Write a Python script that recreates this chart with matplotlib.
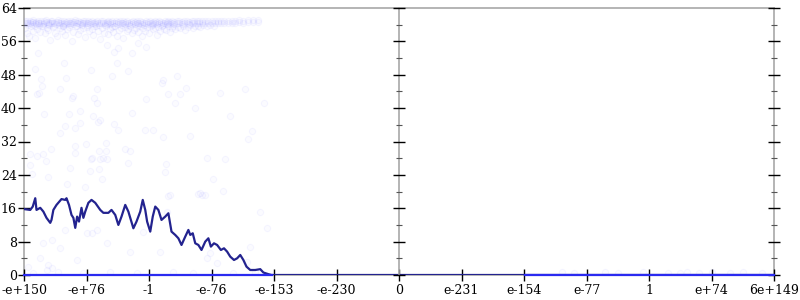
import matplotlib
matplotlib.use("Agg")
import matplotlib.pyplot as plt
from matplotlib.ticker import MultipleLocator

# ---------------- data ----------------
tick_pos = [-6, -5, -4, -3, -2, -1, 0, 1, 2, 3, 4, 5, 6]
tick_labels = ['-e+150', '-e+76', '-1', '-e-76', '-e-153', '-e-230', '0',
               'e-231', 'e-154', 'e-77', '1', 'e+74', '6e+149']

line_x = [-6.0, -5.90, -5.86, -5.82, -5.80, -5.74, -5.69, -5.64, -5.58, -5.56,
          -5.53, -5.48, -5.40, -5.34, -5.32, -5.28, -5.24, -5.21, -5.18, -5.15,
          -5.12, -5.08, -5.05, -5.02, -4.97, -4.92, -4.86, -4.78, -4.73, -4.65,
          -4.60, -4.54, -4.49, -4.44, -4.38, -4.33, -4.25, -4.20, -4.14, -4.10,
          -4.06, -4.03, -3.98, -3.94, -3.90, -3.85, -3.80, -3.74, -3.69, -3.64,
          -3.58, -3.53, -3.48, -3.42, -3.37, -3.34, -3.30, -3.26, -3.21, -3.16,
          -3.10, -3.05, -3.01, -2.96, -2.91, -2.85, -2.80, -2.75, -2.70, -2.64,
          -2.59, -2.54, -2.49, -2.44, -2.38, -2.30, -2.22, -2.17, -2.09, -2.04,
          0.0, 6.0]
line_y = [15.8, 15.6, 16.4, 18.4, 15.6, 16.1, 15.2, 13.7, 12.5, 13.2,
          15.6, 16.8, 18.2, 18.0, 18.4, 16.8, 14.4, 13.7, 11.3, 14.0,
          12.8, 16.1, 13.7, 15.2, 17.3, 18.0, 17.3, 15.6, 14.9, 14.9,
          15.6, 14.4, 12.0, 14.0, 16.8, 15.2, 11.2, 12.8, 15.2, 18.0,
          15.6, 12.8, 10.4, 14.0, 16.4, 15.6, 13.2, 14.0, 14.8, 10.4,
          9.6, 8.8, 7.2, 9.2, 10.8, 9.6, 10.0, 7.6, 7.2, 6.0,
          8.0, 8.8, 6.8, 7.6, 7.2, 6.0, 6.4, 5.6, 4.4, 3.6,
          4.0, 4.8, 3.6, 2.0, 1.2, 1.2, 1.4, 0.6, 0.2, 0.0,
          0.0, 0.0]

zero_left_x = [-6.0, -2.04]
zero_right_x = [2.02, 6.0]
zero_y = [0.0, 0.0]

band_x = [-5.98, -5.95, -5.93, -5.90, -5.88, -5.86, -5.83, -5.81, -5.78, -5.76,
          -5.73, -5.70, -5.68, -5.65, -5.62, -5.60, -5.57, -5.55, -5.52, -5.49,
          -5.46, -5.44, -5.41, -5.38, -5.36, -5.33, -5.30, -5.27, -5.25, -5.22,
          -5.19, -5.16, -5.14, -5.11, -5.08, -5.05, -5.02, -5.00, -4.97, -4.94,
          -4.91, -4.88, -4.86, -4.83, -4.80, -4.77, -4.74, -4.71, -4.68, -4.65,
          -4.62, -4.59, -4.56, -4.53, -4.50, -4.47, -4.44, -4.41, -4.38, -4.35,
          -4.32, -4.29, -4.26, -4.23, -4.20, -4.17, -4.14, -4.11, -4.08, -4.05,
          -4.02, -3.99, -3.96, -3.93, -3.90, -3.87, -3.84, -3.81, -3.78, -3.75,
          -3.72, -3.69, -3.66, -3.63, -3.60, -3.56, -3.52, -3.48, -3.44, -3.40,
          -3.36, -3.32, -3.28, -3.24, -3.20, -3.15, -3.10, -3.05, -3.00, -2.95,
          -2.90, -2.85, -2.80, -2.74, -2.68, -2.62, -2.56, -2.50, -2.42, -2.34,
          -2.25]
band_y = [60.8, 61.0, 60.4, 60.9, 60.6, 61.1, 60.3, 60.7, 61.0, 60.5,
          60.9, 60.2, 60.8, 61.1, 60.6, 60.4, 60.9, 61.0, 60.3, 60.7,
          61.1, 60.5, 60.8, 60.2, 60.9, 60.6, 61.0, 60.4, 60.8, 60.7,
          61.1, 60.3, 60.9, 60.6, 60.5, 61.0, 60.8, 60.4, 60.9, 60.7,
          61.0, 60.3, 60.6, 60.9, 60.5, 60.8, 61.0, 60.4, 60.7, 60.9,
          60.6, 60.8, 60.3, 60.9, 60.7, 61.0, 60.5, 60.8, 60.6, 60.9,
          60.4, 60.7, 60.9, 60.6, 60.8, 60.5, 60.9, 60.7, 60.4, 60.8,
          60.6, 60.9, 60.5, 60.7, 60.8, 60.6, 60.9, 60.7, 60.5, 60.8,
          60.7, 60.9, 60.6, 60.8, 60.7, 60.9, 60.8, 60.6, 60.9, 60.8,
          60.7, 60.9, 60.8, 60.9, 60.8, 60.9, 61.0, 60.9, 60.9, 61.0,
          60.9, 61.0, 60.9, 61.0, 61.0, 61.0, 61.1, 61.0, 61.1, 61.1,
          61.2]

spread_x = [-5.99, -5.96, -5.92, -5.89, -5.85, -5.82, -5.79, -5.75, -5.71, -5.67,
            -5.64, -5.61, -5.58, -5.54, -5.50, -5.47, -5.43, -5.40, -5.37, -5.34,
            -5.31, -5.28, -5.24, -5.21, -5.17, -5.13, -5.10, -5.06, -5.03, -4.99,
            -4.96, -4.92, -4.89, -4.85, -4.82, -4.78, -4.75, -4.72, -4.69, -4.66,
            -4.63, -4.60, -4.57, -4.54, -4.51, -4.48, -4.45, -4.42, -4.39, -4.36,
            -4.33, -4.30, -4.27, -4.24, -4.21, -4.18, -4.15, -4.12, -4.09, -4.06,
            -4.03, -4.00, -3.97, -3.94, -3.91, -3.88, -3.85, -3.82, -3.79, -3.76,
            -3.73, -3.70, -3.67, -3.64, -3.61, -3.58, -3.54, -3.50, -3.46, -3.42,
            -3.38, -3.34, -3.30, -3.26, -3.22, -3.18, -3.13, -3.08, -3.02, -2.96]
spread_y = [59.2, 58.1, 57.4, 59.6, 58.6, 56.8, 59.0, 58.3, 59.8, 57.9,
            59.3, 58.7, 56.4, 59.5, 58.0, 57.2, 59.1, 58.5, 59.7, 57.6,
            58.9, 59.4, 56.1, 58.2, 59.6, 57.8, 58.8, 59.2, 57.0, 59.5,
            58.4, 59.0, 57.5, 59.7, 58.6, 56.6, 59.3, 58.1, 59.6, 57.7,
            58.9, 59.4, 58.3, 59.8, 57.3, 58.7, 59.2, 56.9, 59.5, 58.5,
            59.0, 59.7, 57.9, 58.8, 59.3, 58.2, 59.6, 57.4, 59.1, 58.6,
            59.4, 58.0, 59.7, 58.9, 59.2, 57.6, 59.5, 58.4, 59.8, 59.0,
            58.7, 59.6, 58.2, 59.3, 59.8, 58.9, 59.5, 59.1, 59.7, 58.8,
            59.4, 59.9, 59.2, 59.6, 59.8, 59.4, 59.9, 59.7, 60.0, 59.8]

sparse_x = [-5.77, -5.36, -4.68, -4.50, -4.18, -4.05, -4.27, -4.56, -4.51, -4.93,
            -4.33, -4.60, -5.33, -5.73, -5.71, -5.76, -5.79, -5.43, -5.24, -5.21,
            -4.88, -4.84, -4.83, -4.05, -3.77, -3.80, -3.55, -3.41, -3.69, -3.50,
            -3.58, -3.27, -2.86, -2.47, -2.16, -2.71, -2.36, -2.42, -5.83, -5.68,
            -5.28, -5.10, -4.89, -4.78, -4.82, -5.10, -5.34, -5.18, -5.42, -4.56,
            -4.50, -4.27, -4.06, -3.94, -3.77, -3.34, -4.69, -5.01, -5.19, -5.57,
            -5.91, -5.80, -5.69, -5.65, -5.19, -4.80, -4.69, -4.31, -4.39, -4.92,
            -4.93, -4.78, -4.73, -4.67, -4.34, -3.73, -3.75, -3.07, -2.78, -2.97,
            -2.81, -5.91, -5.88, -5.61, -5.26, -4.94, -4.80, -4.75, -5.32, -5.02,
            -3.69, -3.22, -3.15, -3.66, -3.18, -3.10, -2.22, -2.12, -2.38, -5.56,
            -5.69, -5.42, -4.92, -5.34, -5.00, -4.84, -4.68, -4.09, -3.82, -3.08,
            -3.02, -2.92, -2.44, -5.61, -5.56, -5.64, -5.74, -5.93, -5.16, -4.30,
            -3.72, -5.85, -5.45, -5.05, -4.62, -4.20, -3.62, -3.30, -2.66, -2.30,
            2.60, 2.80, 3.30, 3.50, 3.90, 4.30, 4.50, 4.60, 4.80, 5.00,
            5.30, 5.50, 5.80]
sparse_y = [53.3, 50.9, 55.1, 54.5, 55.7, 54.7, 53.3, 53.5, 50.9, 49.1,
            48.9, 47.7, 47.3, 47.1, 45.4, 43.7, 43.5, 44.6, 42.5, 42.9,
            42.5, 44.6, 41.2, 42.3, 46.7, 46.1, 47.7, 44.9, 43.5, 43.3,
            41.3, 40.1, 43.7, 44.5, 41.3, 38.1, 34.4, 32.6, 49.3, 38.7,
            38.5, 39.3, 38.1, 37.1, 36.7, 36.5, 35.7, 35.2, 34.1, 36.3,
            34.7, 38.9, 34.7, 34.7, 33.1, 33.3, 31.7, 31.5, 31.0, 30.2,
            28.9, 28.5, 29.0, 27.4, 29.3, 29.8, 29.7, 29.8, 30.1, 28.1,
            27.8, 27.9, 28.1, 27.7, 26.9, 26.7, 24.7, 28.1, 27.7, 23.1,
            20.1, 26.4, 24.1, 23.6, 25.6, 24.9, 25.4, 22.9, 21.8, 21.1,
            18.9, 19.4, 19.2, 19.2, 19.6, 19.2, 15.2, 11.2, 6.8, 8.4,
            7.6, 6.4, 10.0, 10.8, 10.0, 10.8, 7.6, 10.4, 5.6, 4.0,
            5.2, 2.8, 3.2, 2.4, 1.6, 1.2, 4.0, 2.0, 3.6, 5.6,
            15.2, 0.5, 0.6, 0.4, 0.7, 0.5, 0.6, 0.4, 0.5, 0.6,
            0.6, 0.5, 0.7, 0.5, 0.6, 0.4, 0.5, 0.6, 0.5, 0.6,
            0.5, 0.6, 0.5]

# ---------------- style ----------------
NAVY = '#23238f'
BLUE = '#2a2af0'
GRAY = '#a8a8a8'
FONT = 'DejaVu Serif'

fig = plt.figure(figsize=(8, 3), dpi=100)
rect = [24 / 800, 25 / 300, 750 / 800, 267 / 300]
ax = fig.add_axes(rect)

ax.set_xlim(-6, 6)
ax.set_ylim(0, 64)

pt_kw = dict(s=20, facecolors=(0.4, 0.4, 1.0, 0.025),
             edgecolors=(0.45, 0.45, 1.0, 0.06), linewidths=0.8, zorder=2)
ax.scatter(sparse_x, sparse_y, **pt_kw)
ax.scatter(spread_x, spread_y, **pt_kw)
ax.scatter(band_x, band_y, **pt_kw)
ax.scatter(band_x, [v - 0.5 for v in band_y], **pt_kw)

ax.plot(line_x, line_y, color=NAVY, lw=1.6, zorder=4, solid_joinstyle='round')
ax.plot(zero_left_x, zero_y, color=BLUE, lw=1.6, zorder=5, clip_on=False)
ax.plot(zero_right_x, zero_y, color=BLUE, lw=1.6, zorder=5, clip_on=False)

for s in ax.spines.values():
    s.set_color(GRAY)
    s.set_linewidth(1.2)
    s.set_zorder(1)

ax.set_xticks(tick_pos)
ax.set_xticklabels(tick_labels, fontfamily=FONT, fontsize=9)
ax.yaxis.set_major_locator(MultipleLocator(8))
ax.yaxis.set_minor_locator(MultipleLocator(4))
for lab in ax.get_yticklabels():
    lab.set_fontfamily(FONT)
    lab.set_fontsize(9)
ax.tick_params(axis='both', which='major', direction='inout', length=8.5,
               width=1.0, color='black', labelsize=9)
ax.tick_params(axis='y', which='minor', direction='inout', length=4.3,
               width=0.8, color='#555555')
ax.tick_params(axis='y', which='both', left=True, right=True, labelright=False)
ax.tick_params(axis='x', which='both', top=False)
ax.tick_params(axis='y', which='major', pad=1)
ax.tick_params(axis='x', which='major', pad=2)

# middle vertical axis
ax2 = fig.add_axes(rect, sharey=ax)
ax2.patch.set_visible(False)
ax2.set_xlim(-6, 6)
for name in ['right', 'top', 'bottom']:
    ax2.spines[name].set_visible(False)
ax2.spines['left'].set_position(('axes', 0.5))
ax2.spines['left'].set_color(GRAY)
ax2.spines['left'].set_linewidth(1.2)
ax2.spines['left'].set_zorder(1)
ax2.set_xticks([])
ax2.tick_params(axis='y', which='major', direction='inout', length=8.5,
                width=1.0, color='black', labelleft=False)
ax2.tick_params(axis='y', which='minor', direction='inout', length=4.3,
                width=0.8, color='#555555', labelleft=False)

fig.savefig('out.png', dpi=100)
